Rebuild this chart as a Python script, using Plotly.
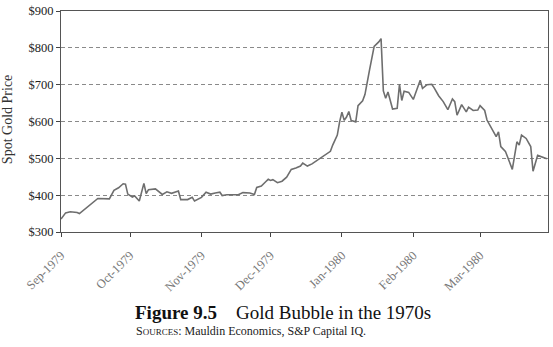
import plotly.graph_objects as go

dates = [
    "1979-09-01", "1979-09-02", "1979-09-03", "1979-09-05", "1979-09-08", "1979-09-09",
    "1979-09-11", "1979-09-13", "1979-09-16", "1979-09-17", "1979-09-22", "1979-09-24",
    "1979-09-26", "1979-09-28", "1979-09-29", "1979-09-30", "1979-10-02", "1979-10-03",
    "1979-10-05", "1979-10-07", "1979-10-08", "1979-10-09", "1979-10-12", "1979-10-15",
    "1979-10-17", "1979-10-19", "1979-10-22", "1979-10-23", "1979-10-26", "1979-10-28",
    "1979-10-29", "1979-10-31", "1979-11-01", "1979-11-03", "1979-11-05", "1979-11-07",
    "1979-11-09", "1979-11-10", "1979-11-12", "1979-11-17", "1979-11-19", "1979-11-22",
    "1979-11-24", "1979-11-25", "1979-11-27", "1979-11-29", "1979-11-30", "1979-12-01",
    "1979-12-02", "1979-12-04", "1979-12-06", "1979-12-08", "1979-12-10", "1979-12-12",
    "1979-12-14", "1979-12-15", "1979-12-17", "1979-12-19", "1979-12-21", "1979-12-23",
    "1979-12-25", "1979-12-27", "1979-12-28", "1979-12-29", "1979-12-30", "1979-12-31",
    "1980-01-01", "1980-01-02", "1980-01-03", "1980-01-04", "1980-01-05", "1980-01-07",
    "1980-01-08", "1980-01-10", "1980-01-11", "1980-01-13", "1980-01-15", "1980-01-17",
    "1980-01-18", "1980-01-19", "1980-01-20", "1980-01-21", "1980-01-23", "1980-01-25",
    "1980-01-26", "1980-01-27", "1980-01-28", "1980-01-30", "1980-02-01", "1980-02-04",
    "1980-02-05", "1980-02-07", "1980-02-09", "1980-02-10", "1980-02-12", "1980-02-14",
    "1980-02-16", "1980-02-18", "1980-02-19", "1980-02-20", "1980-02-22", "1980-02-24",
    "1980-02-25", "1980-02-27", "1980-02-29", "1980-03-01", "1980-03-03", "1980-03-04",
    "1980-03-06", "1980-03-08", "1980-03-09", "1980-03-10", "1980-03-12", "1980-03-15",
    "1980-03-17", "1980-03-18", "1980-03-19", "1980-03-21", "1980-03-23", "1980-03-24",
    "1980-03-26", "1980-03-28", "1980-03-30",
]

prices = [
    335, 344, 352, 355, 353, 350,
    360, 370, 385, 391, 390, 413,
    420, 431, 430, 403, 395, 398,
    384, 432, 404, 415, 417, 402,
    409, 405, 411, 388, 388, 394,
    384, 390, 394, 408, 403, 406,
    408, 399, 401, 401, 407, 406,
    402, 421, 425, 437, 443, 440,
    442, 434, 438, 449, 470, 474,
    479, 487, 479, 485, 494, 501,
    510, 519, 536, 548, 563, 599,
    625, 603, 612, 627, 603, 599,
    643, 656, 673, 740, 804, 816,
    825, 683, 663, 680, 634, 636,
    701, 657, 682, 679, 660, 712,
    690, 700, 701, 692, 670, 654,
    632, 661, 654, 617, 646, 626,
    639, 630, 631, 643, 630, 604,
    581, 559, 572, 532, 519, 470,
    545, 536, 563, 554, 532, 465,
    508, 504, 499,
]

y_ticks = [300, 400, 500, 600, 700, 800, 900]
y_tick_labels = ["$300", "$400", "$500", "$600", "$700", "$800", "$900"]

y_title = "Spot Gold Price"
caption_title = "<b>Figure 9.5</b>\u00a0\u00a0\u00a0\u00a0Gold Bubble in the 1970s"
caption_source = "S<span style='font-size:9px'>OURCES</span>: Mauldin Economics, S&amp;P Capital IQ."

serif = "Liberation Serif"

fig = go.Figure()
fig.add_trace(go.Scatter(
    x=dates, y=prices, mode="lines",
    line=dict(color="#6e6e6e", width=1.6),
    hoverinfo="skip", showlegend=False,
))

fig.update_layout(
    width=553, height=347,
    margin=dict(l=61, r=4, t=7, b=115),
    paper_bgcolor="white", plot_bgcolor="white",
    font=dict(family=serif, color="#222"),
    xaxis=dict(
        type="date",
        range=["1979-09-01", "1980-03-30 12:00"],
        tick0="1979-09-01", dtick="M1", tickformat="%b-%Y",
        tickangle=-45,
        ticks="outside", ticklen=4, tickcolor="#444",
        ticklabelstandoff=6,
        tickfont=dict(family=serif, size=12.5, color="#777"),
        showgrid=False, zeroline=False,
        showline=True, linecolor="#555", linewidth=1.2, mirror=True,
    ),
    yaxis=dict(
        range=[300, 900],
        tickvals=y_ticks, ticktext=y_tick_labels,
        ticks="outside", ticklen=4, tickcolor="#444",
        tickfont=dict(family=serif, size=12.5, color="#222"),
        showgrid=True, gridcolor="#8a8a8a", griddash="4px,3px", gridwidth=1,
        zeroline=False,
        showline=True, linecolor="#555", linewidth=1.2, mirror=True,
    ),
    annotations=[
        dict(text=y_title, xref="paper", yref="paper",
             x=(7 - 61) / 488, y=(232 - 118) / 225, textangle=-90, showarrow=False,
             xanchor="center", yanchor="middle",
             font=dict(family=serif, size=14, color="#333")),
        dict(text=caption_title, xref="paper", yref="paper",
             x=(133 - 61) / 488, y=(232 - 314) / 225, showarrow=False,
             xanchor="left", yanchor="middle",
             font=dict(family=serif, size=19, color="#111")),
        dict(text=caption_source, xref="paper", yref="paper",
             x=(134 - 61) / 488, y=(232 - 333) / 225, showarrow=False,
             xanchor="left", yanchor="middle",
             font=dict(family=serif, size=12, color="#222")),
    ],
)

fig.write_html("out.html")
